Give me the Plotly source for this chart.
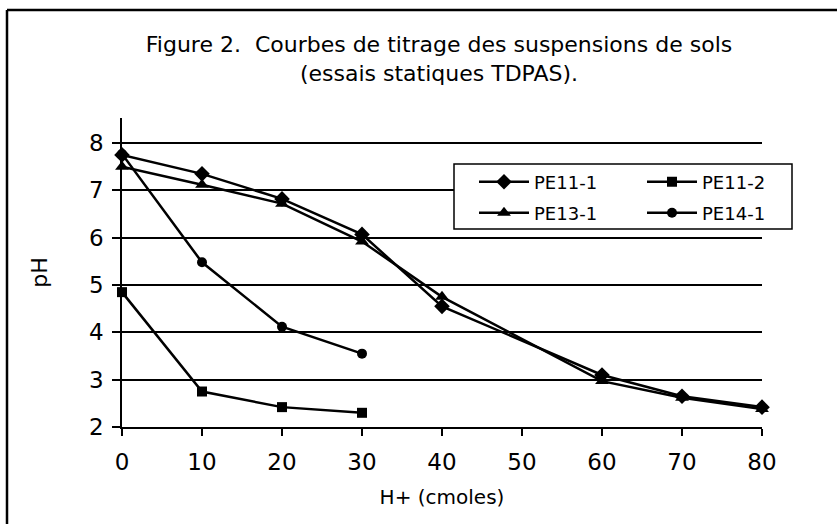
import plotly.graph_objects as go

x_long = [0, 10, 20, 30, 40, 60, 70, 80]
x_short = [0, 10, 20, 30]

pe11_1 = [7.75, 7.35, 6.82, 6.07, 4.55, 3.10, 2.65, 2.42]
pe11_2 = [4.85, 2.75, 2.42, 2.30]
pe13_1 = [7.50, 7.12, 6.72, 5.92, 4.75, 2.97, 2.62, 2.38]
pe14_1 = [7.77, 5.48, 4.12, 3.55]

x_ticks = [0, 10, 20, 30, 40, 50, 60, 70, 80]
y_ticks = [2, 3, 4, 5, 6, 7, 8]

FONT = "DejaVu Sans"

fig = go.Figure()

def add(name, xs, ys, symbol, size, legend):
    fig.add_trace(go.Scatter(
        x=xs, y=ys, name=name, mode="lines+markers",
        line=dict(color="black", width=2.5),
        marker=dict(symbol=symbol, size=size, color="black"),
        cliponaxis=False, legend=legend,
    ))

add("PE11-1", x_long, pe11_1, "diamond", 12, "legend")
add("PE11-2", x_short, pe11_2, "square", 10, "legend2")
add("PE13-1", x_long, pe13_1, "triangle-up", 12, "legend3")
add("PE14-1", x_short, pe14_1, "circle", 10, "legend4")

L, R, T, B = 122, 75, 118, 97
W, H = 837, 524
pw, ph = W - L - R, H - T - B

def px(xp):
    return (xp - L) / pw

def py(yp):
    return (H - B - yp) / ph

def leg(xp, yp):
    return dict(
        x=px(xp), y=py(yp), xanchor="left", yanchor="middle",
        font=dict(family=FONT, size=18, color="black"),
        bgcolor="rgba(0,0,0,0)", borderwidth=0,
        itemwidth=50,
    )

fig.update_layout(
    width=W, height=H,
    margin=dict(l=L, r=R, t=T, b=B),
    paper_bgcolor="white", plot_bgcolor="white",
    font=dict(family=FONT, color="black"),
    title=dict(
        text="Figure 2.&nbsp; Courbes de titrage des suspensions de sols<br>(essais statiques TDPAS).",
        x=px(439), xanchor="center", xref="paper",
        y=1 - 52 / H, yanchor="top", yref="container",
        font=dict(family=FONT, size=22, color="black"),
    ),
    xaxis=dict(
        range=[0, 80], tickvals=x_ticks, ticktext=[str(v) for v in x_ticks],
        showgrid=False, zeroline=False,
        showline=True, linecolor="black", linewidth=1.5,
        ticks="outside", ticklen=7, tickwidth=1.5, tickcolor="black",
        ticklabelstandoff=7,
        tickfont=dict(family=FONT, size=23, color="black"),
        title=dict(text="H+ (cmoles)", font=dict(family=FONT, size=20, color="black"), standoff=16),
    ),
    yaxis=dict(
        range=[2, 8.53], tickvals=y_ticks, ticktext=[str(v) for v in y_ticks],
        showgrid=True, gridcolor="black", gridwidth=1.5,
        zeroline=False,
        showline=True, linecolor="black", linewidth=1.5,
        ticks="outside", ticklen=8, tickwidth=1.5, tickcolor="black",
        ticklabelstandoff=4,
        tickfont=dict(family=FONT, size=23, color="black"),
        title=dict(text="pH", font=dict(family=FONT, size=22, color="black"), standoff=35),
    ),
    legend=leg(474, 182),
    legend2=leg(642, 182),
    legend3=leg(474, 213),
    legend4=leg(642, 213),
    showlegend=True,
)

# legend box
fig.add_shape(type="rect", xref="paper", yref="paper",
              x0=px(454), x1=px(792), y0=py(229), y1=py(164),
              line=dict(color="black", width=1.5), fillcolor="white", layer="above")
# outer frame (left and top edges)
fig.add_shape(type="line", xref="paper", yref="paper",
              x0=px(7), x1=px(7), y0=py(530), y1=py(10),
              line=dict(color="black", width=2.5))
fig.add_shape(type="line", xref="paper", yref="paper",
              x0=px(7), x1=px(840), y0=py(10), y1=py(10),
              line=dict(color="black", width=2.5))

fig.write_html("out.html", config={"displayModeBar": False},
               post_script="document.body.style.margin='0';")
